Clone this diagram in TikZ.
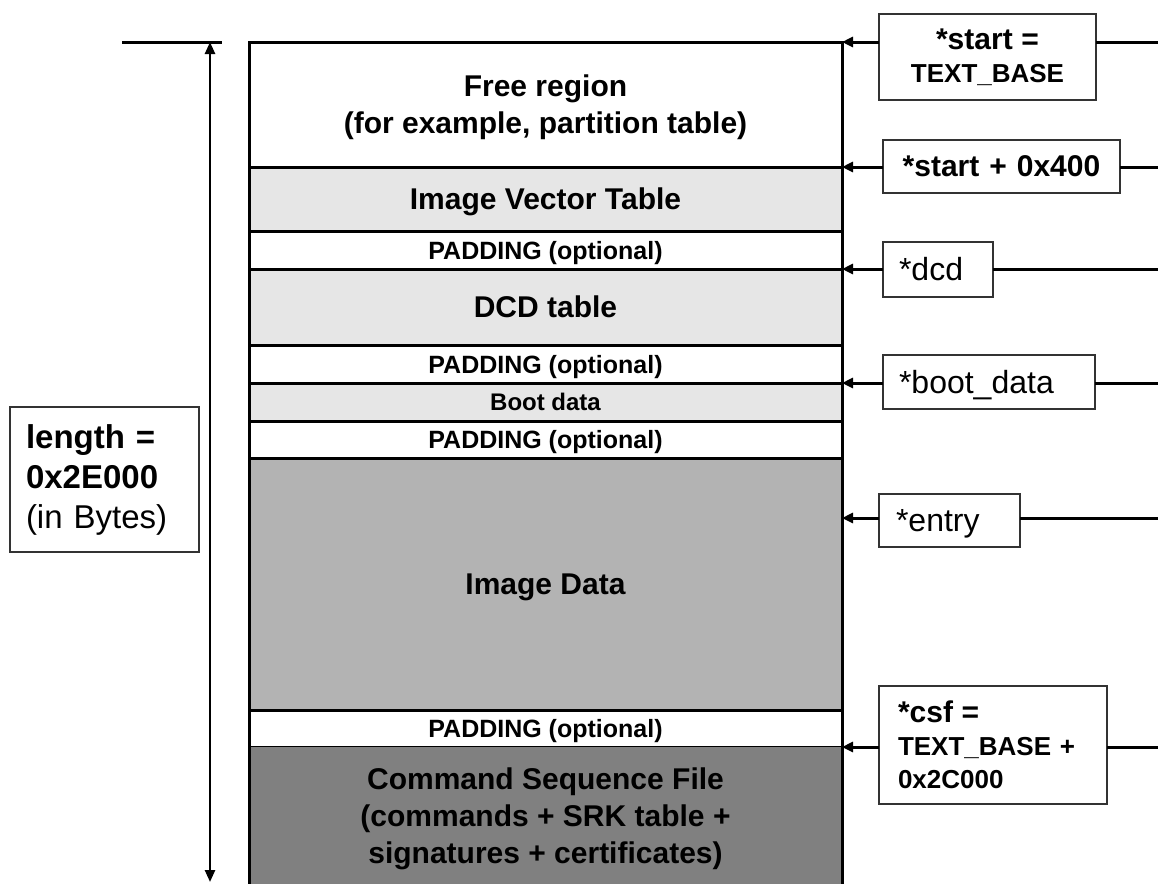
\documentclass[tikz,border=0pt]{standalone}
\usepackage{fontspec}
\setmainfont{Liberation Sans}
\usetikzlibrary{positioning,arrows.meta}

\newcommand{\rowfont}{\fontsize{30}{37}\selectfont\bfseries}
\newcommand{\padfont}{\fontsize{25}{30}\selectfont\bfseries}
\newcommand{\bootfont}{\fontsize{24}{28}\selectfont\bfseries}
\newcommand{\tagfont}{\fontsize{32}{38}\selectfont}
\newcommand{\smallbf}{\fontsize{26}{33}\selectfont\bfseries}

\definecolor{lightrow}{HTML}{E6E6E6}
\definecolor{midrow}{HTML}{B3B3B3}
\definecolor{darkrow}{HTML}{808080}
\definecolor{boxline}{HTML}{333333}

\tikzset{
  row/.style={draw, line width=3pt, minimum width=593pt, inner sep=0pt, outer sep=0pt, align=center, text depth=0pt, font=\rowfont},
  pad/.style={row, minimum height=38pt, font=\padfont},
  tag/.style={draw=boxline, line width=1.5pt, inner ysep=0pt, inner xsep=16pt, outer sep=0pt, align=left, font=\tagfont},
  wire/.style={line width=3pt},
  ptr/.style={wire, -{Triangle[length=11pt,width=10pt]}},
  dim/.style={line width=2.5pt, {Triangle[length=12pt,width=10pt]}-{Triangle[length=12pt,width=10pt]}},
}

\begin{document}
\begin{tikzpicture}[x=1pt, y=-1pt]
    \useasboundingbox (0,0) rectangle (1158,884);

    % Define nodes
    \node[row, minimum height=125pt, anchor=north]		(free)	at (545.5,42) {Free region\\(for example, partition table)};
    \node[row, fill=lightrow, minimum height=64pt, below=0pt of free]	(ivt)	{Image Vector Table};
    \node[pad, below=0pt of ivt]		(pad1)	{PADDING (optional)};
    \node[row, fill=lightrow, minimum height=76pt, below=0pt of pad1]	(dcd)	{DCD table};
    \node[pad, below=0pt of dcd]		(pad2)	{PADDING (optional)};
    \node[pad, fill=lightrow, font=\bootfont, below=0pt of pad2]	(boot)	{Boot data};
    \node[pad, minimum height=37pt, below=0pt of boot]	(pad3)	{PADDING (optional)};
    \node[row, fill=midrow, minimum height=252pt, below=0pt of pad3]	(img)	{Image Data};
    \node[pad, minimum height=37pt, below=0pt of img]	(pad4)	{PADDING (optional)};
    \node[row, draw=none, fill=darkrow, minimum height=137pt, below=0pt of pad4]	(csf)	{Command Sequence File\\(commands + SRK table +\\signatures + certificates)};

    \node[tag, align=center, font=\smallbf, text width=185pt, minimum height=86pt]	(lstart)	at (987.5,57) {{\fontsize{30}{33}\selectfont *start =}\\TEXT\_BASE};
    \node[tag, align=center, font=\rowfont, text width=205pt, minimum height=53pt]	(loff)	at (1001.5,166.5) {*start + 0x400};
    \node[tag, text width=78pt, minimum height=55pt]	(ldcd)	at (938,269.5) {*dcd};
    \node[tag, text depth=0pt, text width=180pt, minimum height=54pt]	(lboot)	at (989,382) {*boot\_data};
    \node[tag, text depth=0pt, inner xsep=17pt, text width=107pt, minimum height=53pt]	(lentry)	at (949.5,520.5) {*entry};
    \node[tag, font=\smallbf, inner xsep=19pt, text width=190pt, minimum height=118pt]	(lcsf)	at (993,745) {{\fontsize{30}{33}\selectfont *csf =}\\TEXT\_BASE +\\0x2C000};
    \node[tag, font=\fontsize{33}{40}\selectfont, text width=157pt, minimum height=145pt]	(llen)	at (104.5,479.5) {\textbf{length =}\\\textbf{0x2E000}\\(in Bytes)};

    \coordinate (rim)	at (1158,0);
    \coordinate (entry-pt)	at ([yshift=-60pt]img.north east);
    \coordinate (tick-l)	at (122,42);
    \coordinate (tick-r)	at (222,42);
    \coordinate (dim-top)	at (210,42);
    \coordinate (dim-bot)	at (210,882);

    % Connect nodes
    \draw[wire] (csf.north west) -- (csf.south west);
    \draw[wire] (csf.north east) -- (csf.south east);
    \foreach \lbl/\tgt in {lstart/free.north east, loff/ivt.north east, ldcd/dcd.north east, lboot/boot.north east, lentry/entry-pt, lcsf/csf.north east} {
        \draw[wire] (\lbl.east |- \tgt) -- (rim |- \tgt);
        \draw[ptr] (\lbl.west |- \tgt) -- (\tgt);
    }

    % length marker
    \draw[wire] (tick-l) -- (tick-r);
    \draw[dim] (dim-top) -- (dim-bot);
\end{tikzpicture}
\end{document}
